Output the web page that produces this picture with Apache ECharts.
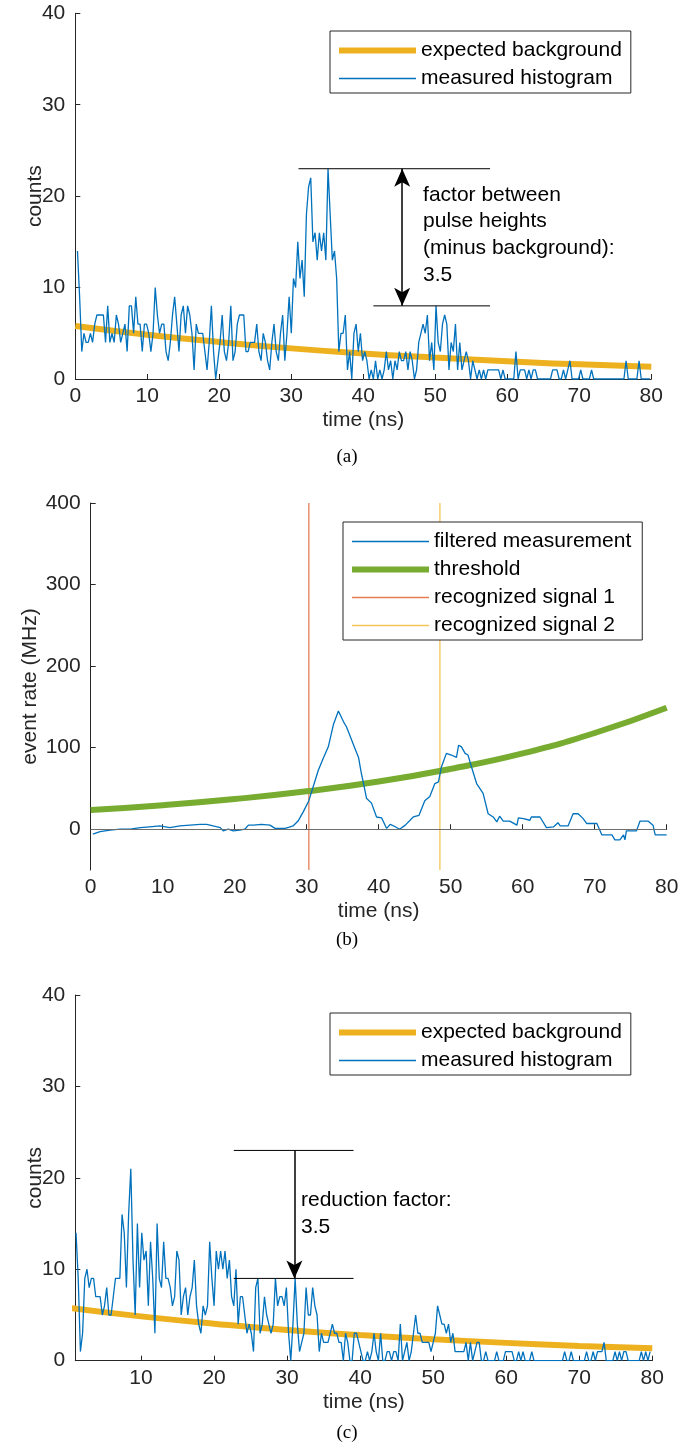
<!DOCTYPE html>
<html>
<head>
<meta charset="utf-8">
<script src="https://cdn.jsdelivr.net/npm/echarts@6/dist/echarts.min.js"></script>
<style>
  html, body { margin: 0; padding: 0; background: #fff; }
  #main { width: 694px; height: 1452px; }
</style>
</head>
<body>
<div id="main"></div>
<script>
// ---------- data ----------
var binWidth = 0.3;           // ns per histogram bin
var startA = 0.3;             // first bin time, panel (a)
var countsA = [
  14, 9, 3, 5, 4, 4, 5, 4, 6, 7,  7, 7, 7, 4, 8, 4, 5, 4, 7, 6,
  4, 5, 6, 3, 8, 8, 5, 9, 6, 6,  3, 6, 6, 5, 3, 5, 10, 7, 5, 6,
  6, 3, 2, 4, 7, 9, 6, 3, 7, 8,  5, 8, 7, 5, 1, 6, 5, 5, 5, 3,
  1, 4, 8, 3, 0, 2, 4, 7, 3, 2,  4, 8, 2, 3, 6, 7, 7, 7, 3, 3,
  4, 4, 4, 6, 3, 2, 5, 4, 2, 1,  4,
  6, 3, 2, 5, 7, 2, 5, 9, 5, 11,  10, 15, 11, 13, 9, 18, 21, 22, 15, 16,
  13, 16, 14, 16, 13, 23, 18, 13, 14, 11,  3, 5, 5, 7, 1, 3, 0, 5, 6, 3,
  5, 2, 3, 2, 0, 1, 0, 2, 0, 1,  0, 1, 3, 1, 2, 0, 2, 1, 3, 2,
  2, 3, 1, 3, 2, 0, 1, 4, 5, 6,  5, 7, 2, 4, 1, 8, 4, 3, 6, 7,
  6, 1, 4, 3, 6, 1, 4, 1, 2, 3,  2, 0,
  2, 1, 0, 1, 0, 1, 0, 1, 1, 1,  1, 1, 1, 0, 1, 0, 0, 0, 0, 0,
  3, 0, 1, 1, 1, 0, 1, 0, 1, 1,  0, 0, 0, 0, 0, 0, 0, 1, 1, 1,
  0, 0, 1, 0, 1, 2, 0, 0, 0, 0,  1, 0, 0, 0, 0, 1, 0, 0, 0, 0,
  0, 0, 0, 0, 0, 0, 0, 0, 0, 0,  0, 2, 0, 0, 0, 0, 0, 2, 0, 0,
  0, 0, 0
];
var startC = 1.1;             // first bin time, panel (c)
var countsC = [
  14, 9, 1, 3, 9, 10, 8, 9, 9, 7,  7, 7, 5, 6, 8, 5, 5, 7, 9, 9,
  9, 16, 14, 8, 16, 21, 11, 5, 15, 8,  14, 11, 12, 6, 13, 9, 3, 15, 9, 8,
  13, 9, 9, 8, 6, 7, 12, 11, 5, 7,  8, 5, 7, 8, 11, 6, 4, 3, 6, 5,
  6, 13, 9, 6, 12, 10, 12, 10, 12, 9,  11, 7, 6, 10, 4, 7, 7, 5, 3, 4,
  3, 1, 8, 9, 3, 4, 7, 5, 4, 3,  4, 9, 6, 7, 7, 6, 8, 3,
  0, 4, 9, 4, 1, 2, 3, 8, 5, 5,  8, 6, 5, 1, 3, 2, 2, 2, 3, 4,
  3, 3, 2, 2, 0, 3, 2, 0, 0, 3,  3, 2, 1, 0, 0, 1, 0, 1, 3, 1,
  0, 3, 0, 0, 1, 1, 0, 1, 1, 0,  4, 0, 1, 2, 0, 1, 3, 5, 3, 3,
  2, 2, 2, 2, 1, 2, 3, 6, 5, 4,  4, 3, 4, 2, 3, 1, 1, 1, 1, 1,
  2, 0, 2, 0, 1, 2, 2, 0, 0, 1,  0,
  0, 0, 0, 1, 0, 0, 0, 1, 1, 1,  1, 0, 0, 1, 0, 1, 0, 0, 0, 1,
  0, 0, 0, 0, 0, 0, 0, 0, 0, 0, 0, 0, 0, 0,
  1, 0, 0, 1, 0,  0, 0, 0, 0, 0,
  1, 0, 0, 1, 0, 1, 1, 1, 2, 0,  0, 0, 0, 1, 0, 1, 0, 1, 1, 0,
  0, 0, 0, 0, 0,  1, 0, 1, 0, 1
];
var bgTime   = [0, 10, 20, 30, 40, 50, 60, 70, 80];
var bgCounts = [5.8, 4.85, 4.05, 3.35, 2.8, 2.35, 1.95, 1.6, 1.35];

var timeB = [0.3, 1.3, 2.7, 4.1, 5.5, 6.9, 8.2, 9.6, 11.0, 12.4, 13.8, 15.2, 16.1, 17.0, 18.0, 18.4,
  19.1, 19.8, 20.7, 21.4, 21.9, 22.6, 23.7, 24.9, 25.6, 26.3, 27.0, 27.7, 28.1, 28.8, 29.5, 30.3,
  30.9, 31.6, 32.3, 33.0, 33.7, 34.4, 35.1, 35.5, 36.0, 36.7, 37.2, 37.6, 37.9, 38.3, 39.0, 39.7,
  40.4, 41.1, 41.6, 42.3, 42.9, 43.7, 44.8, 45.6, 46.4, 47.1, 47.8, 48.3, 48.7, 49.4, 50.1, 50.8,
  51.1, 51.5, 52.0, 52.4, 52.9, 53.6, 54.5, 55.2, 55.9, 56.4, 56.8, 57.3, 58.2, 59.2, 59.4, 60.1,
  61.0, 61.2, 62.4, 63.3, 64.3, 64.9, 65.2, 66.3, 67.0, 67.7, 68.4, 68.9, 70.3, 71.0, 72.4, 72.8,
  73.5, 74.0, 74.2, 74.4, 75.8, 76.3, 77.4, 78.1, 78.4, 80.0];
var rateB = [-6, -3, -1, 0, 0, 2, 3, 4, 2, 4, 5, 6, 6, 4, 2, -2,
  0, -2, -1, 0, 5, 5, 6, 5, 1, 1, 1, 3, 4, 10, 21, 35,
  52, 72, 87, 101, 128, 145, 132, 126, 115, 99, 88, 68, 56, 38, 32, 15,
  14, 1, 6, 3, 0, 5, 15, 17, 35, 40, 56, 58, 76, 93, 91, 88,
  103, 101, 93, 91, 76, 56, 44, 19, 15, 9, 16, 10, 10, 5, 14, 13,
  11, 15, 15, 2, 3, 8, 4, 4, 19, 19, 13, 7, 7, -7, -7, -13,
  -13, -7, -13, -2, -2, 10, 10, 5, -7, -7];
var thrTime = [0, 10, 20, 30, 40, 50, 60, 70, 80];
var thrRate = [23.5, 29.5, 37, 46.5, 58.5, 74, 93, 118, 149];
var signal1 = 30.3, signal2 = 48.5;

var ticksB = [0, 100, 200, 300, 400];
var ticksC = [10, 20, 30, 40, 50, 60, 70, 80];

// ---------- helpers ----------
function histPairs(start, counts) {
  return counts.map(function (v, i) { return [+(start + i * binWidth).toFixed(2), v]; });
}
function zip(xs, ys) { return xs.map(function (x, i) { return [x, ys[i]]; }); }

var FONT = 'Liberation Sans, Arial, Helvetica, sans-serif';
var FS = 21;
var INK = '#262626';
var BLUE = '#0072BD', ORANGE = '#D95319', YELLOW = '#EDB120', GREEN = '#77AC30';
var RED_T = 'rgba(217,83,25,0.75)', YEL_T = 'rgba(237,177,32,0.75)';

function xAxisCfg(grid, min, max, custom) {
  var a = {
    type: 'value', gridIndex: grid, min: min, max: max,
    name: 'time (ns)', nameLocation: 'middle', nameGap: 31, nameMoveOverlap: false,
    nameTextStyle: { fontFamily: FONT, fontSize: FS, color: INK },
    axisLine: { lineStyle: { color: INK, width: 1 } },
    axisTick: { inside: true, length: 5, lineStyle: { color: INK } },
    axisLabel: { fontFamily: FONT, fontSize: FS, color: INK, margin: 7 },
    splitLine: { show: false }
  };
  if (custom) {
    a.axisTick.customValues = custom;
    a.axisLabel.customValues = custom;
  } else {
    a.interval = 10;
  }
  return a;
}
function yAxisCfg(grid, name, min, max, interval, custom, gap) {
  var a = {
    type: 'value', gridIndex: grid, min: min, max: max,
    name: name, nameLocation: 'middle', nameGap: gap, nameRotate: 90, nameMoveOverlap: false,
    nameTextStyle: { fontFamily: FONT, fontSize: FS, color: INK },
    axisLine: { show: true, lineStyle: { color: INK, width: 1 } },
    axisTick: { show: true, inside: true, length: 5, lineStyle: { color: INK } },
    axisLabel: { fontFamily: FONT, fontSize: FS, color: INK, margin: 10 },
    splitLine: { show: false }
  };
  if (custom) {
    a.axisTick.customValues = custom;
    a.axisLabel.customValues = custom;
  } else {
    a.interval = interval;
  }
  return a;
}
function legendCfg(items, left, top, padRight) {
  return {
    data: items.map(function (it) {
      return { name: it[0], lineStyle: { color: it[1], width: it[2] } };
    }),
    orient: 'vertical', left: left, top: top,
    itemWidth: 77, itemHeight: 14, itemGap: 7,
    padding: [9, padRight, 4, 6],
    borderColor: INK, borderWidth: 1, backgroundColor: '#fff',
    selectedMode: false,
    itemStyle: { opacity: 0 },
    textStyle: { fontFamily: FONT, fontSize: FS, color: '#000' }
  };
}
function plain(name, grid, data, color, width, z) {
  return {
    name: name, type: 'line', xAxisIndex: grid, yAxisIndex: grid,
    data: data, symbol: 'none', z: z || 2,
    lineStyle: { color: color, width: width }, itemStyle: { color: color },
    silent: true
  };
}

var chart = echarts.init(document.getElementById('main'));

var bgSeriesA = plain('expected background', 0, zip(bgTime, bgCounts), YELLOW, 6, 1);
bgSeriesA.smooth = true;
var bgSeriesC = plain('expected background', 2, zip(bgTime, bgCounts), YELLOW, 6, 1);
bgSeriesC.smooth = true;
var thrSeries = plain('threshold', 1, zip(thrTime, thrRate), GREEN, 6, 3);
thrSeries.smooth = true;

var filtered = plain('filtered measurement', 1, zip(timeB, rateB), BLUE, 1.3, 4);
filtered.markLine = {
  silent: true, symbol: 'none', label: { show: false },
  lineStyle: { color: '#6e6e6e', width: 1, type: 'solid' },
  data: [{ yAxis: 0 }]
};

// annotation, panel (a)
var annA = plain('annA', 0, [[31.0, 23], [57.6, 23]], '#000', 1, 5);
var annA2 = plain('annA2', 0, [[41.4, 8], [57.6, 8]], '#000', 1, 5);
annA2.markLine = {
  silent: true, symbol: ['arrow', 'arrow'], symbolSize: [12, 18],
  label: { show: false }, lineStyle: { color: '#000', width: 1.5, type: 'solid' },
  data: [[{ coord: [45.4, 23] }, { coord: [45.4, 8] }]]
};
// annotation, panel (c)
var annC = plain('annC', 2, [[22.7, 23], [39.1, 23]], '#000', 1, 5);
var annC2 = plain('annC2', 2, [[22.7, 9], [39.1, 9]], '#000', 1, 5);
annC2.markLine = {
  silent: true, symbol: ['none', 'arrow'], symbolSize: [12, 18],
  label: { show: false }, lineStyle: { color: '#000', width: 1.5, type: 'solid' },
  data: [[{ coord: [31.0, 23] }, { coord: [31.0, 9] }]]
};

var option = {
  animation: false,
  backgroundColor: '#fff',
  grid: [
    { left: 75.3, top: 13.3, width: 576, height: 365.7 },
    { left: 90.7, top: 503, width: 576, height: 367 },
    { left: 75.3, top: 995, width: 577, height: 365.7 }
  ],
  xAxis: [
    xAxisCfg(0, 0, 80),
    xAxisCfg(1, 0, 80),
    xAxisCfg(2, 1, 80, ticksC)
  ],
  yAxis: [
    yAxisCfg(0, 'counts', 0, 40, 10, null, 30),
    yAxisCfg(1, 'event rate (MHz)', -50, 400, null, ticksB, 50),
    yAxisCfg(2, 'counts', 0, 40, 10, null, 30)
  ],
  legend: [
    legendCfg([['expected background', YELLOW, 6], ['measured histogram', BLUE, 1.5]], 330, 31, 9),
    legendCfg([['filtered measurement', BLUE, 1.5], ['threshold', GREEN, 6],
               ['recognized signal 1', RED_T, 1.5], ['recognized signal 2', YEL_T, 1.5]], 343, 522, 11),
    legendCfg([['expected background', YELLOW, 6], ['measured histogram', BLUE, 1.5]], 330, 1013, 9)
  ],
  series: [
    bgSeriesA,
    plain('measured histogram', 0, histPairs(startA, countsA), BLUE, 1.3, 2),
    annA, annA2,
    filtered,
    thrSeries,
    plain('recognized signal 1', 1, [[signal1, -50], [signal1, 400]], RED_T, 1.3, 2),
    plain('recognized signal 2', 1, [[signal2, -50], [signal2, 400]], YEL_T, 1.3, 2),
    bgSeriesC,
    plain('measured histogram', 2, histPairs(startC, countsC), BLUE, 1.3, 2),
    annC, annC2
  ]
};
chart.setOption(option);

// text annotations placed in data coordinates
var pA = chart.convertToPixel({ gridIndex: 0 }, [48.3, 21.6]);
var pC = chart.convertToPixel({ gridIndex: 2 }, [31.9, 19.0]);
var txt = { fontFamily: FONT, fontSize: FS, fill: '#000', lineHeight: 26.7 };
var cap = { fontFamily: 'Liberation Serif, Times New Roman, serif', fontSize: 19, fill: '#000',
            align: 'center', verticalAlign: 'middle' };
chart.setOption({
  graphic: [
    { type: 'text', left: pA[0], top: pA[1], z: 10,
      style: Object.assign({ text: 'factor between\npulse heights\n(minus background):\n3.5' }, txt) },
    { type: 'text', left: pC[0], top: pC[1], z: 10,
      style: Object.assign({ text: 'reduction factor:\n3.5' }, txt) },
    { type: 'text', x: 347, y: 457, style: Object.assign({ text: '(a)' }, cap) },
    { type: 'text', x: 347, y: 940, style: Object.assign({ text: '(b)' }, cap) },
    { type: 'text', x: 347, y: 1433, style: Object.assign({ text: '(c)' }, cap) }
  ]
});
</script>
</body>
</html>
